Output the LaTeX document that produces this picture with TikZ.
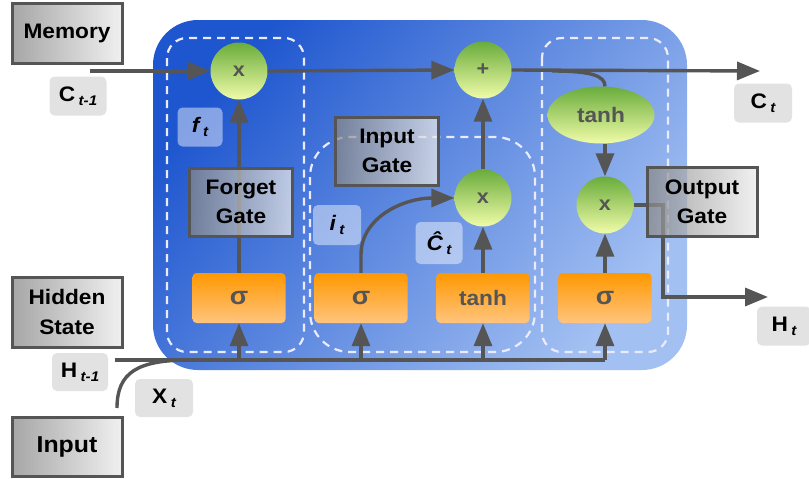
\documentclass[tikz,border=0pt]{standalone}
\usepackage{fontspec}
\setmainfont{Liberation Sans}[FakeStretch=1.08]
\usetikzlibrary{arrows.meta,shapes.geometric}
\definecolor{lineg}{HTML}{555555}
\definecolor{txtg}{HTML}{555555}
\definecolor{blueA}{HTML}{1E56CF}
\definecolor{blueB}{HTML}{A3C0F2}
\definecolor{grnA}{HTML}{6AAC3C}
\definecolor{grnB}{HTML}{F0FCA8}
\definecolor{orA}{HTML}{FF9800}
\definecolor{orB}{HTML}{FFC47E}
\definecolor{gryA}{HTML}{878787}
\definecolor{gryB}{HTML}{EBEBEB}
\definecolor{labg}{HTML}{E2E2E2}
\newcommand\lsub[1]{\,\raisebox{-0.35ex}{\fontsize{14}{14}\selectfont\bfseries\itshape #1}}
\newcommand\fnt[1]{\fontsize{#1}{1.4\dimexpr#1pt\relax}\selectfont\bfseries}
\tikzset{
  ln/.style={draw=lineg, line width=3.4pt},
  arr/.style={ln, -{Triangle[length=23pt,width=18pt]}},
  dsh/.style={draw=white!92!blue, line width=2.2pt, dash pattern=on 8pt off 6pt},
  gbox/.style={draw=lineg, line width=3pt, left color=gryA, right color=gryB, fill opacity=0.74, text opacity=1, align=center, font=\fnt{21}, inner sep=0pt},
  lab/.style={fill=labg, rounded corners=5pt, font=\fnt{21}, inner sep=0pt},
  ilab/.style={fill=white, fill opacity=0.45, text opacity=1, rounded corners=5pt, font=\fnt{21}\itshape, inner sep=0pt},
  circ/.style={circle, minimum size=57pt, top color=grnA, bottom color=grnB, text=txtg, font=\fnt{20}, inner sep=0pt},
  obox/.style={top color=orA, bottom color=orB, rounded corners=4pt, minimum width=93pt, minimum height=50pt, text=txtg, font=\fnt{25}, inner sep=0pt}
}
\begin{document}
\begin{tikzpicture}[x=1pt,y=-1pt]
\useasboundingbox (0,0) rectangle (809,479);
% main cell
\shade[rounded corners=45pt, top color=blueA, bottom color=blueB, shading angle=50] (153,20) rectangle (687,370);
% dashed gate regions
\draw[dsh, rounded corners=20pt] (167,38) rectangle (304,352);
\draw[dsh, rounded corners=40pt] (310,137) rectangle (535,352);
\draw[dsh, rounded corners=20pt] (542,38) rectangle (668,352);
% nodes
\node[circ] (fx) at (239,71) {x};
\node[circ] (plus) at (483,70) {+};
\node[circ] (ix) at (483,198) {x};
\node[circ] (ox) at (605,205) {x};
\node[ellipse, minimum width=107pt, minimum height=57pt, top color=grnA, bottom color=grnB, text=txtg, font=\fnt{21}, inner sep=0pt] (th) at (601,115) {tanh};
\node[obox] (s1) at (239,298) {σ};
\node[obox] (s2) at (361,298) {σ};
\node[obox] (tb) at (483,298) {\fnt{21}tanh};
\node[obox] (s3) at (605,298) {σ};
% coordinates
\coordinate (cin) at (90,71);
\coordinate (cout) at (760,71);
\coordinate (br) at (552,71);
\coordinate (ocorner) at (663,297);
\coordinate (hout) at (768,297);
\coordinate (hin) at (115,360);
\coordinate (hcorner) at (605,360);
\coordinate (xin) at (117,408);
\coordinate (xjoin) at (190,360);
% connectors
\draw[arr] (cin) -- (fx.west);
\draw[arr] (fx.east) -- (plus.west);
\draw[arr] (plus.east) -- (cout);
\draw[ln] (br) .. controls (592,71) and (605,76) .. (ox.north |- th.north);
\draw[arr] (ox.north |- th.south) -- (ox.north);
\draw[arr] (s3.north) -- (ox.south);
\draw[arr] (ox.east) -| (ocorner) -- (hout);
\draw[arr] (s1.north) -- (fx.south);
\draw[arr] (tb.north) -- (ix.south);
\draw[arr] (ix.north) -- (plus.south);
\draw[arr] (s2.north) -- ++(0,-18) .. controls +(0,-38) and +(-50,0) .. (ix.west);
\draw[ln] (hin) -- (hcorner);
\draw[arr] (hcorner) -- (s3.south);
\draw[arr] (s1.south |- hin) -- (s1.south);
\draw[arr] (s2.south |- hin) -- (s2.south);
\draw[arr] (tb.south |- hin) -- (tb.south);
\draw[ln] (xin) .. controls (117,372) and (138,360) .. (xjoin);
% gray boxes
\node[gbox, minimum width=110pt, minimum height=60pt, font=\fnt{21}] (mem) at (67,33) {Memory};
\node[gbox, minimum width=110pt, minimum height=70pt] (hid) at (67,312) {Hidden\\State};
\node[gbox, minimum width=110pt, minimum height=59pt, font=\fnt{23}] (inp) at (67,447) {Input};
\node[gbox, minimum width=103pt, minimum height=68pt] (fg) at (241,202) {Forget\\Gate};
\node[gbox, minimum width=103pt, minimum height=68pt] (ig) at (387,151) {Input\\Gate};
\node[gbox, minimum width=110pt, minimum height=69pt] (og) at (702,202) {Output\\Gate};
% labels
\node[lab, minimum width=57pt, minimum height=39pt] (lc1) at (78,96) {C\lsub{t-1}};
\node[lab, minimum width=58pt, minimum height=39pt] (lc) at (763,103) {C\lsub{t}};
\node[lab, minimum width=56pt, minimum height=38pt] (lh1) at (80,372) {H\lsub{t-1}};
\node[lab, minimum width=58pt, minimum height=38pt] (lx) at (164,398) {X\lsub{t}};
\node[lab, minimum width=54pt, minimum height=39pt] (lh) at (784,326) {H\lsub{t}};
\node[ilab, minimum width=45pt, minimum height=39pt] (lf) at (200,127) {f\lsub{t}};
\node[ilab, minimum width=48pt, minimum height=40pt] (li) at (337,225) {i\lsub{t}};
\node[ilab, minimum width=47pt, minimum height=42pt] (lch) at (439,243) {\^C\lsub{t}};
\end{tikzpicture}
\end{document}
